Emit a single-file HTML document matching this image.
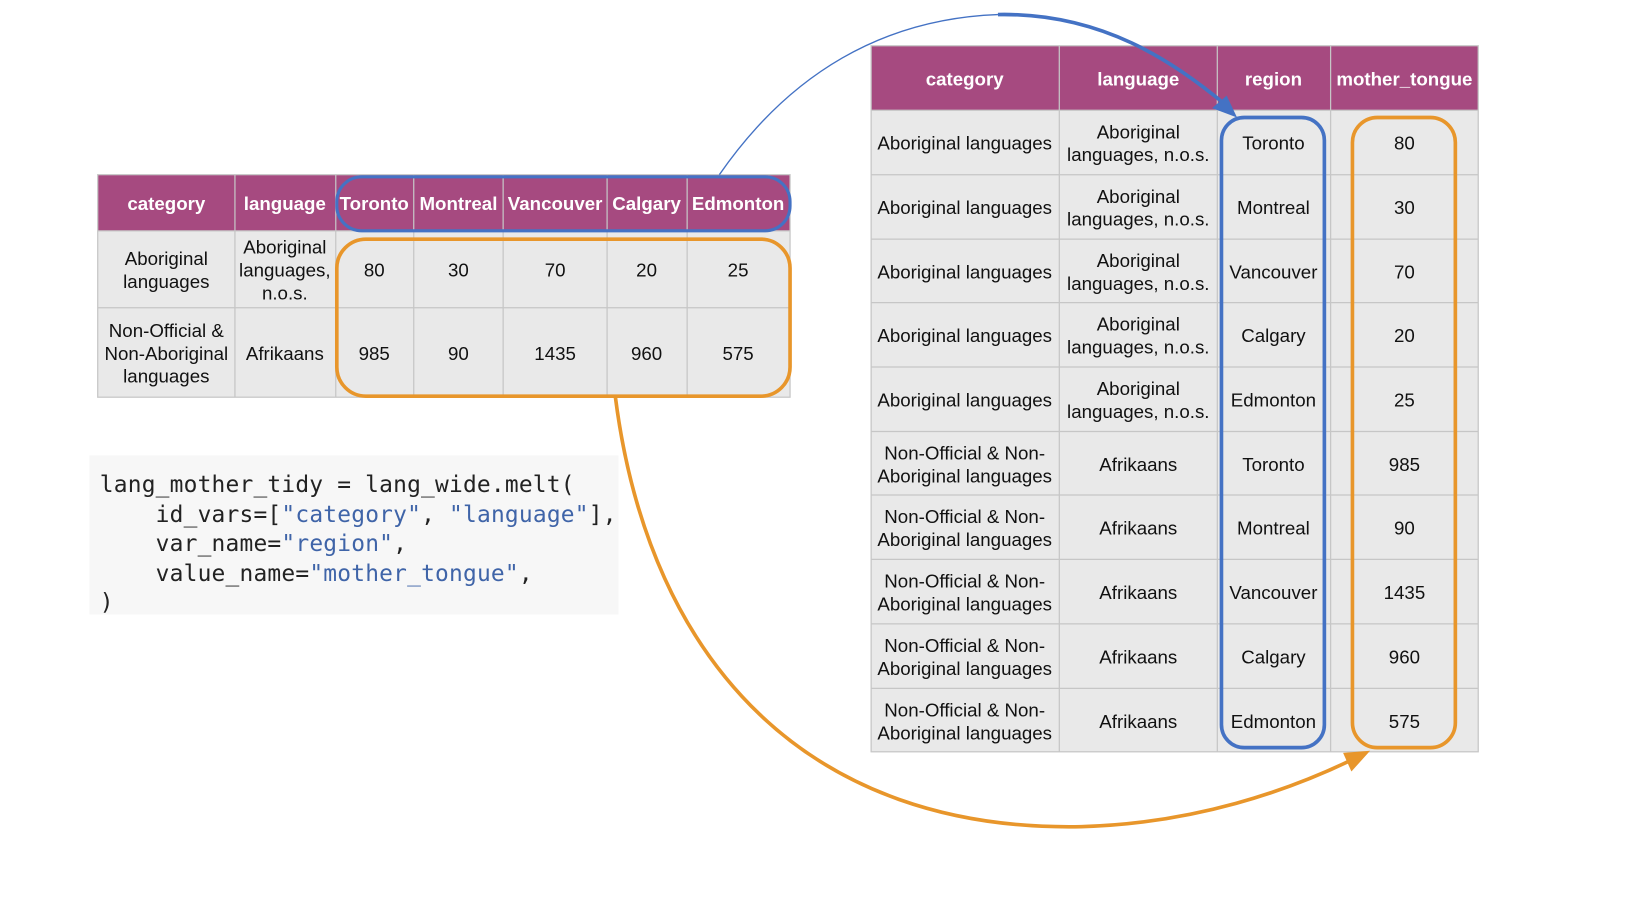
<!DOCTYPE html>
<html><head><meta charset="utf-8"><style>
html,body{margin:0;padding:0;background:#fff;width:1630px;height:914px;overflow:hidden}
svg{display:block}
text{font-family:"Liberation Sans",Arial,sans-serif}
.h{fill:#fff;font-weight:bold;font-size:18px}
.c{fill:#111;font-size:18px}
.m{font-family:"DejaVu Sans Mono","Liberation Mono",monospace;font-size:22px;letter-spacing:0.2px;fill:#222}
</style></head><body>
<svg width="1630" height="914" viewBox="0 0 1568 879" preserveAspectRatio="none">
<!-- LEFT TABLE -->
<rect x="94" y="168" width="666" height="54" fill="#a64a80"/>
<rect x="94" y="222" width="666" height="160" fill="#e9e9e9"/>
<g stroke="#c6c6c6" stroke-width="1.2" fill="none">
<rect x="94" y="168" width="666" height="214"/>
<line x1="94" y1="222" x2="760" y2="222"/><line x1="94" y1="296" x2="760" y2="296"/>
<line x1="226" y1="168" x2="226" y2="382"/><line x1="323" y1="168" x2="323" y2="382"/>
<line x1="398" y1="168" x2="398" y2="382"/><line x1="484" y1="168" x2="484" y2="382"/>
<line x1="584" y1="168" x2="584" y2="382"/><line x1="661" y1="168" x2="661" y2="382"/>
</g>
<g text-anchor="middle" class="h">
<text x="160" y="202" class="h">category</text><text x="274" y="202" class="h">language</text>
<text x="360" y="202" class="h">Toronto</text><text x="441" y="202" class="h">Montreal</text>
<text x="534" y="202" class="h">Vancouver</text><text x="622" y="202" class="h">Calgary</text>
<text x="710" y="202" class="h">Edmonton</text>
</g>
<g text-anchor="middle">
<text x="160" y="255" class="c">Aboriginal</text><text x="160" y="277" class="c">languages</text>
<text x="274" y="244" class="c">Aboriginal</text><text x="274" y="266" class="c">languages,</text><text x="274" y="288" class="c">n.o.s.</text>
<text x="360" y="266" class="c">80</text><text x="441" y="266" class="c">30</text><text x="534" y="266" class="c">70</text><text x="622" y="266" class="c">20</text><text x="710" y="266" class="c">25</text>
<text x="160" y="324" class="c">Non-Official &amp;</text><text x="160" y="346" class="c">Non-Aboriginal</text><text x="160" y="368" class="c">languages</text>
<text x="274" y="346" class="c">Afrikaans</text>
<text x="360" y="346" class="c">985</text><text x="441" y="346" class="c">90</text><text x="534" y="346" class="c">1435</text><text x="622" y="346" class="c">960</text><text x="710" y="346" class="c">575</text>
</g>
<rect x="324" y="170" width="436" height="52" rx="24" fill="none" stroke="#4472c4" stroke-width="3"/>
<rect x="324" y="230" width="436" height="151" rx="28" fill="none" stroke="#e8962b" stroke-width="3.5"/>

<!-- CODE -->
<rect x="86" y="438" width="509" height="153" fill="#f7f7f7"/>
<text x="96" y="473" class="m">lang_mother_tidy = lang_wide.melt(</text>
<text x="96" y="502" class="m" xml:space="preserve">    id_vars=[<tspan fill="#3f64a8">"category"</tspan>, <tspan fill="#3f64a8">"language"</tspan>],</text>
<text x="96" y="530" class="m" xml:space="preserve">    var_name=<tspan fill="#3f64a8">"region"</tspan>,</text>
<text x="96" y="559" class="m" xml:space="preserve">    value_name=<tspan fill="#3f64a8">"mother_tongue"</tspan>,</text>
<text x="96" y="586" class="m">)</text>

<!-- RIGHT TABLE -->
<rect x="838" y="44" width="584" height="62" fill="#a64a80"/>
<rect x="838" y="106" width="584" height="617" fill="#e9e9e9"/>
<g stroke="#c6c6c6" stroke-width="1.2" fill="none">
<rect x="838" y="44" width="584" height="679"/>
<line x1="1019" y1="44" x2="1019" y2="723"/><line x1="1171" y1="44" x2="1171" y2="723"/><line x1="1280" y1="44" x2="1280" y2="723"/>
<line x1="838" y1="106" x2="1422" y2="106"/><line x1="838" y1="168" x2="1422" y2="168"/><line x1="838" y1="230" x2="1422" y2="230"/>
<line x1="838" y1="291" x2="1422" y2="291"/><line x1="838" y1="353" x2="1422" y2="353"/><line x1="838" y1="415" x2="1422" y2="415"/>
<line x1="838" y1="476" x2="1422" y2="476"/><line x1="838" y1="538" x2="1422" y2="538"/><line x1="838" y1="600" x2="1422" y2="600"/>
<line x1="838" y1="662" x2="1422" y2="662"/>
</g>
<g text-anchor="middle">
<text x="928" y="82" class="h">category</text><text x="1095" y="82" class="h">language</text><text x="1225" y="82" class="h">region</text><text x="1351" y="82" class="h">mother_tongue</text>
<text x="928" y="144" class="c">Aboriginal languages</text><text x="1095" y="133" class="c">Aboriginal</text><text x="1095" y="155" class="c">languages, n.o.s.</text><text x="1225" y="144" class="c">Toronto</text><text x="1351" y="144" class="c">80</text>
<text x="928" y="206" class="c">Aboriginal languages</text><text x="1095" y="195" class="c">Aboriginal</text><text x="1095" y="217" class="c">languages, n.o.s.</text><text x="1225" y="206" class="c">Montreal</text><text x="1351" y="206" class="c">30</text>
<text x="928" y="268" class="c">Aboriginal languages</text><text x="1095" y="257" class="c">Aboriginal</text><text x="1095" y="279" class="c">languages, n.o.s.</text><text x="1225" y="268" class="c">Vancouver</text><text x="1351" y="268" class="c">70</text>
<text x="928" y="329" class="c">Aboriginal languages</text><text x="1095" y="318" class="c">Aboriginal</text><text x="1095" y="340" class="c">languages, n.o.s.</text><text x="1225" y="329" class="c">Calgary</text><text x="1351" y="329" class="c">20</text>
<text x="928" y="391" class="c">Aboriginal languages</text><text x="1095" y="380" class="c">Aboriginal</text><text x="1095" y="402" class="c">languages, n.o.s.</text><text x="1225" y="391" class="c">Edmonton</text><text x="1351" y="391" class="c">25</text>
<text x="928" y="442" class="c">Non-Official &amp; Non-</text><text x="928" y="464" class="c">Aboriginal languages</text><text x="1095" y="453" class="c">Afrikaans</text><text x="1225" y="453" class="c">Toronto</text><text x="1351" y="453" class="c">985</text>
<text x="928" y="503" class="c">Non-Official &amp; Non-</text><text x="928" y="525" class="c">Aboriginal languages</text><text x="1095" y="514" class="c">Afrikaans</text><text x="1225" y="514" class="c">Montreal</text><text x="1351" y="514" class="c">90</text>
<text x="928" y="565" class="c">Non-Official &amp; Non-</text><text x="928" y="587" class="c">Aboriginal languages</text><text x="1095" y="576" class="c">Afrikaans</text><text x="1225" y="576" class="c">Vancouver</text><text x="1351" y="576" class="c">1435</text>
<text x="928" y="627" class="c">Non-Official &amp; Non-</text><text x="928" y="649" class="c">Aboriginal languages</text><text x="1095" y="638" class="c">Afrikaans</text><text x="1225" y="638" class="c">Calgary</text><text x="1351" y="638" class="c">960</text>
<text x="928" y="689" class="c">Non-Official &amp; Non-</text><text x="928" y="711" class="c">Aboriginal languages</text><text x="1095" y="700" class="c">Afrikaans</text><text x="1225" y="700" class="c">Edmonton</text><text x="1351" y="700" class="c">575</text>
</g>
<rect x="1175" y="113" width="99" height="606" rx="22" fill="none" stroke="#4472c4" stroke-width="3.5"/>
<rect x="1301" y="113" width="99" height="606" rx="24" fill="none" stroke="#e8962b" stroke-width="3.5"/>

<!-- ARROWS -->
<path d="M692 168 C 760 70, 850 18, 960 14" fill="none" stroke="#4472c4" stroke-width="1.3"/>
<path d="M960 14 C 1060 12, 1130 60, 1178 100" fill="none" stroke="#4472c4" stroke-width="3.5"/>
<polygon points="1190,113 1166,104 1180,92" fill="#4472c4"/>
<path d="M592 382 C 625 640, 780 800, 1040 795 C 1150 792, 1240 760, 1302 730" fill="none" stroke="#e8962b" stroke-width="3.5"/>
<polygon points="1318,722 1292,724 1300,742" fill="#e8962b"/>
</svg>
</body></html>
